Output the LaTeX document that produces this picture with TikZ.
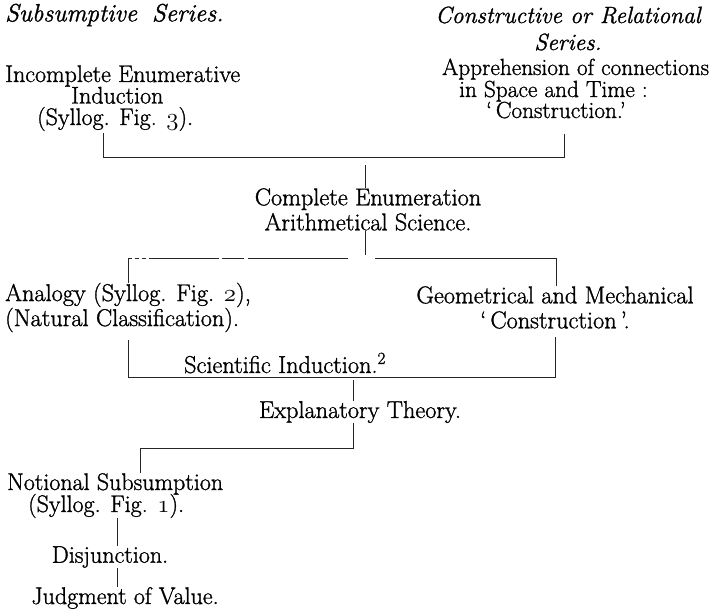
\documentclass[tikz,border=0pt]{standalone}
\usepackage{fontspec}
\setmainfont{Latin Modern Roman}[FakeBold=1.2]
\usetikzlibrary{positioning}

\newcommand{\osfig}[1]{{\usefont{OML}{cmm}{m}{it}#1}}

\tikzset{
  old/.style={inner sep=0pt, anchor=base west, font=\fontsize{24}{22.5}\selectfont},
  new/.style={inner sep=0pt, align=center, font=\fontsize{24.3}{25}\selectfont},
  head/.style={inner sep=0pt, align=center, font=\fontsize{23.5}{27}\selectfont\itshape},
  tree/.style={line width=1pt, black!85},
  broken/.style={tree, dash pattern=on 4pt off 3pt on 4pt off 3pt on 4pt off 3pt on 70pt off 3pt on 22pt off 4pt on 300pt}
}

\begin{document}
\begin{tikzpicture}[x=1pt, y=-1pt]
	\useasboundingbox (0,0) rectangle (713,610);
	
	% headings
	\node[head, anchor=west, font=\fontsize{25}{27}\selectfont\itshape] (subs) at (5,15) {Subsumptive\hspace{0.6em}Series.};
	\node[head] (cons) at (568,28.5) {Constructive or Relational\\Series.};
	
	% left and right roots
	\node[old] (incomp) at (5,82) {Incomplete Enumerative};
	\node[old] (induct) at (71,103.5) {Induction};
	\node[old] (syll3) at (37,125) {(Syllog. Fig. \osfig{3}).};
	
	\node[old, font=\fontsize{23.3}{22.5}\selectfont] (appr) at (442,75) {Apprehension of connections};
	\node[old, font=\fontsize{23.3}{22.5}\selectfont] (space) at (459,97) {in Space and Time :};
	\node[old, font=\fontsize{23.3}{22.5}\selectfont] (constr) at (486,118) {`\,Construction.'};
	
	\node[new] (compl) at (368,209.5) {Complete Enumeration\\Arithmetical Science.};
	
	\node[new, align=left, anchor=west] (anal) at (5,307.5) {Analogy (Syllog. Fig. \osfig{2}),\\(Natural Classification).};
	\node[new] (geom) at (555,307.5) {Geometrical and Mechanical\\`\,Construction\,'.};
	
	\node[new] (scind) at (285,363) {Scientific Induction.\textsuperscript{2}};
	\node[new] (expl) at (360,412) {Explanatory Theory.};
	
	\node[old] (notion) at (7,490) {Notional Subsumption};
	\node[old] (syll1) at (28,512) {(Syllog. Fig. \osfig{1}).};
	\node[old, anchor=center] (disj) at (110,557) {Disjunction.};
	\node[old, anchor=center] (judg) at (125,598) {Judgment of Value.};
	
	% junctions
	\coordinate (jl1) at (103,157);
	\coordinate (jr1) at (564,157);
	\coordinate (jc1) at (365,165);
	\coordinate (jc2) at (365,255);
	\coordinate (jl2) at (128,258);
	\coordinate (jml) at (348,258);
	\coordinate (jmr) at (375,258);
	\coordinate (jr2) at (556,258);
	\coordinate (jl3) at (128,377);
	\coordinate (jr3) at (555,377);
	\coordinate (jc3) at (353,380);
	\coordinate (jc4) at (353,448);
	\coordinate (jl4) at (140,448);
	\coordinate (jb) at (117,448);
	
	\draw[tree] ([yshift=-2pt]syll3.south -| jl1) -- (jl1) -- (jr1) -- ([yshift=-15pt]constr.south -| jr1);
	\draw[tree] (jc1) -- (compl.north -| jc1);
	\draw[tree] (compl.south -| jc2) -- (jc2);
	
	\draw[broken] (jl2) -- (jml);
	\draw[tree] (jl2) -- (anal.north -| jl2);
	\draw[tree] (jmr) -- (jr2) -- (geom.north -| jr2);
	
	\draw[tree] ([yshift=-8pt]anal.south -| jl3) -- (jl3) -- (jr3) -- ([yshift=-8pt]geom.south -| jr3);
	\draw[tree] (jc3) -- (expl.north -| jc3);
	
	\draw[tree] (expl.south -| jc4) -- (jc4) -- (jl4) -- (notion.north -| jl4);
	\draw[tree] (syll1.south -| jb) -- (disj.north -| jb);
	\draw[tree] (disj.south -| jb) -- (judg.north -| jb);
\end{tikzpicture}
\end{document}
